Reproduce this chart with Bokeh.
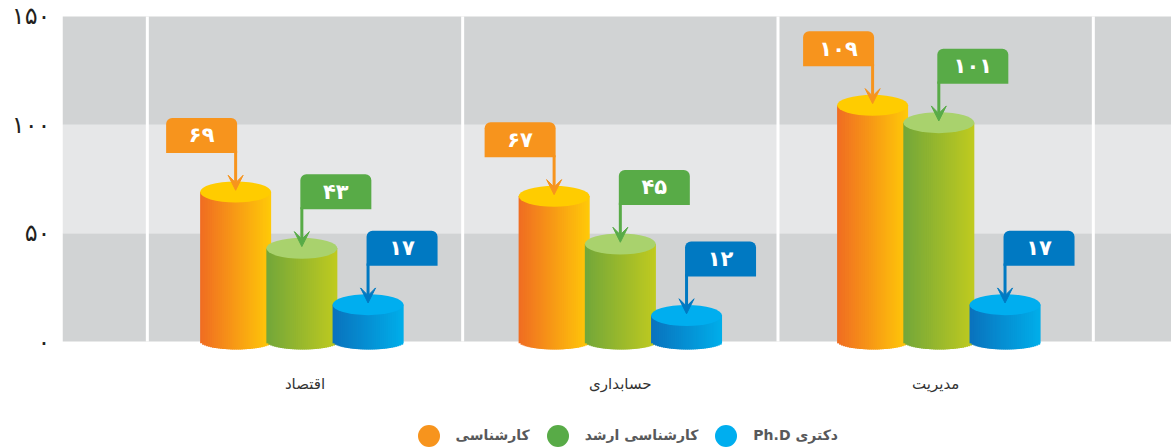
from bokeh.plotting import figure
from bokeh.models import Range1d, FixedTicker, ColumnDataSource, Arrow, VeeHead, Legend, LegendItem
from bokeh.core.properties import value
from bokeh.embed import file_html
from bokeh.resources import INLINE

# ---------------- data ----------------
categories = ["اقتصاد", "حسابداری", "مدیریت"]
series_names = ["کارشناسی", "کارشناسی ارشد", "Ph.D دکتری"]
bachelor = [69, 67, 109]
master = [43, 45, 101]
phd = [17, 12, 17]
y_ticks = [0, 50, 100, 150]
y_tick_labels = ["۰", "۵۰", "۱۰۰", "۱۵۰"]
band_edges = [0, 50, 100, 150]

FA = str.maketrans("0123456789", "۰۱۲۳۴۵۶۷۸۹")

# ---------------- geometry (screen -> data helpers) ----------------
W, H = 1171, 448
PXX = 315.33          # px per category unit
PXY = 2.1667          # px per value unit
X0 = -304.5 / PXX     # data x at canvas px 0
LEFT = 62
x_start = X0 + LEFT / PXX
x_end = X0 + W / PXX
y_top = 341 / PXY
y_bot = -(H - 341) / PXY
GROUP_STEP = 1.01     # bar groups are spaced slightly wider than the category bands

p = figure(width=W, height=H, output_backend="svg", toolbar_location=None,
           x_range=Range1d(x_start, x_end), y_range=Range1d(y_bot, y_top),
           x_axis_location=None, min_border_left=LEFT, min_border_right=0,
           min_border_top=0, min_border_bottom=0)
p.outline_line_color = None
p.grid.visible = False
p.background_fill_color = "white"
p.border_fill_color = "white"

# y axis
ya = p.yaxis[0]
ya.ticker = FixedTicker(ticks=y_ticks)
ya.major_label_overrides = {t: l for t, l in zip(y_ticks, y_tick_labels)}
ya.axis_line_color = None
ya.major_tick_line_color = None
ya.minor_tick_line_color = None
ya.major_tick_out = 0
ya.major_tick_in = 0
ya.major_label_standoff = 12
ya.major_label_text_font = "DejaVu Sans"
ya.major_label_text_font_size = "24px"
ya.major_label_text_color = "#231f20"

# background bands
band_colors = ["#d1d3d4", "#e6e7e8", "#d1d3d4"]
p.quad(left=[x_start] * 3, right=[x_end] * 3,
       bottom=band_edges[:-1], top=band_edges[1:],
       fill_color=band_colors, line_color=None)

# white separators between categories
sep_x = [i - 0.5 for i in range(len(categories) + 1)]
p.segment(x0=sep_x, x1=sep_x, y0=[0] * len(sep_x), y1=[150] * len(sep_x),
          line_color="white", line_width=3)

# ---------------- cylinders ----------------
def hex2rgb(h):
    h = h.lstrip("#")
    return tuple(int(h[i:i + 2], 16) for i in (0, 2, 4))

def mix(a, b, t):
    ra, rb = hex2rgb(a), hex2rgb(b)
    return "#%02x%02x%02x" % tuple(round(ra[k] + (rb[k] - ra[k]) * t) for k in range(3))

styles = [
    dict(vals=bachelor, c0="#f06c22", c1="#ffca08", top="#ffcc00", tag="#f7941d", side=-1, off=-0.21),
    dict(vals=master, c0="#72a63a", c1="#c0cb1f", top="#a9d26d", tag="#58ab47", side=1, off=0.0),
    dict(vals=phd, c0="#0a72bd", c1="#00aeea", top="#00aeef", tag="#0079c2", side=1, off=0.21),
]
mid = (len(categories) - 1) / 2
def gx(i, off):
    return mid + (i - mid) * GROUP_STEP + off

CW = 71 / PXX           # cylinder width
R = CW / 2
TOPH = 21 / PXY         # top ellipse full height
BOTH = 8 / PXY          # bottom curve half height
N = 36

for st in styles:
    L, Rr, T, B, C = [], [], [], [], []
    for i, v in enumerate(st["vals"]):
        cx = gx(i, st["off"])
        for j in range(N):
            l = cx - R + CW * j / N
            r = min(cx + R, cx - R + CW * (j + 1.8) / N)
            xm = (cx - R + CW * (j + 0.5) / N) - cx
            depth = BOTH * max(0.0, 1 - (xm / R) ** 2) ** 0.5
            L.append(l); Rr.append(r); T.append(v); B.append(-depth)
            C.append(mix(st["c0"], st["c1"], (j + 0.5) / N))
    p.quad(left=L, right=Rr, top=T, bottom=B, fill_color=C, line_color=None)
    xs = [gx(i, st["off"]) for i in range(len(st["vals"]))]
    p.ellipse(x=xs, y=st["vals"], width=CW, height=TOPH,
              fill_color=st["top"], line_color=None)

# ---------------- callouts ----------------
BOX_W = 71 / PXX
EDGE = 1.5 / PXX
BOX_B = 39 / PXY
BOX_T = 74 / PXY
for st in styles:
    xs = [gx(i, st["off"]) for i in range(len(st["vals"]))]
    if st["side"] < 0:
        rights = [x + EDGE for x in xs]
        lefts = [x - BOX_W for x in rights]
    else:
        lefts = [x - EDGE for x in xs]
        rights = [x + BOX_W for x in lefts]
    bots = [v + BOX_B for v in st["vals"]]
    tops = [v + BOX_T for v in st["vals"]]
    p.quad(left=lefts, right=rights, bottom=bots, top=tops,
           fill_color=st["tag"], line_color=None, border_radius=(6, 6, 0, 0))
    src = ColumnDataSource(dict(x=xs, y0=[v + BOX_B + 1 for v in st["vals"]],
                                y1=[v + 0.8 for v in st["vals"]]))
    p.add_layout(Arrow(x_start="x", y_start="y0", x_end="x", y_end="y1", source=src,
                       line_color=st["tag"], line_width=3,
                       end=VeeHead(size=15, fill_color=st["tag"], line_color=st["tag"], line_width=1)))
    p.text(x=[(a + b) / 2 for a, b in zip(lefts, rights)],
           y=[(a + b) / 2 for a, b in zip(bots, tops)],
           text=[str(v).translate(FA) for v in st["vals"]],
           text_color="white", text_font=value("DejaVu Sans"), text_font_style="bold",
           text_font_size="21px", text_align="center", text_baseline="middle")

# ---------------- category labels ----------------
p.text(x=list(range(len(categories))), y=[-(383 - 341) / PXY] * len(categories),
       text=categories, text_color="#333333", text_font=value("DejaVu Sans"),
       text_font_size="15px", text_align="center", text_baseline="middle")

# ---------------- legend ----------------
legend_colors = ["#f7941d", "#58ab47", "#00aeef"]
items = []
for name, col in zip(series_names, legend_colors):
    r = p.scatter(x=[x_start - 5], y=[y_bot - 50], size=22, marker="circle",
                  fill_color=col, line_color=None)
    items.append(LegendItem(label=name, renderers=[r]))
legend = Legend(items=items, orientation="horizontal",
                location=(400.5 - LEFT, H - 435 - 27.5),
                glyph_width=55, glyph_height=55, label_standoff=-6, spacing=-7,
                padding=0, margin=0, border_line_color=None, background_fill_alpha=0,
                label_text_font="DejaVu Sans", label_text_font_style="bold",
                label_text_font_size="14px", label_text_color="#58595b")
p.add_layout(legend)

open("out.html", "w").write(file_html(p, INLINE))
